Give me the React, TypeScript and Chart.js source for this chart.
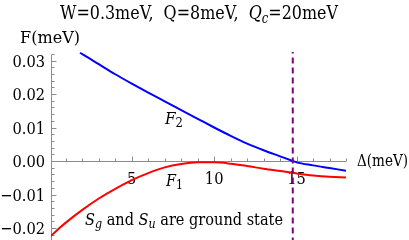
import React, { useEffect, useRef } from "react";
import { Chart, registerables } from "chart.js";

Chart.register(...registerables);

// ---- data ----
const deltaF2 = [1.86, 2, 3, 4, 5, 6, 7, 8, 9, 10, 11, 12, 13, 14, 14.77, 15, 16, 17, 18];
const valuesF2 = [
  0.0323, 0.0319, 0.0289, 0.0259, 0.0231, 0.0204, 0.0178, 0.0152, 0.0126, 0.01, 0.0075,
  0.0052, 0.0032, 0.0014, 0.0, -0.0004, -0.0013, -0.0021, -0.0029,
];
const deltaF1 = [0.1, 0.5, 1, 2, 3, 4, 5, 6, 7, 8, 9, 10, 11, 12, 13, 14, 15, 16, 17, 18];
const valuesF1 = [
  -0.0224, -0.0205, -0.0184, -0.0146, -0.0112, -0.0083, -0.0057, -0.0036, -0.0019, -0.0009,
  -0.0004, -0.0004, -0.0008, -0.0015, -0.0023, -0.003, -0.0037, -0.0043, -0.0047, -0.0049,
];
const criticalDelta = 14.77;
const xMin = 0.1;
const xMax = 18;
const yMin = -0.02358;
const yMax = 0.03254;
const xTickLabels = [5, 10, 15];
const xMinorTicks = [1, 2, 3, 4, 5, 6, 7, 8, 9, 10, 11, 12, 13, 14, 15, 16, 17, 18];
const yTickLabels = [-0.02, -0.01, 0, 0.01, 0.02, 0.03];
const yMinorTicks = [
  -0.022, -0.02, -0.018, -0.016, -0.014, -0.012, -0.01, -0.008, -0.006, -0.004, -0.002, 0,
  0.002, 0.004, 0.006, 0.008, 0.01, 0.012, 0.014, 0.016, 0.018, 0.02, 0.022, 0.024, 0.026,
  0.028, 0.03, 0.032,
];

const FONT = "'DejaVu Serif'";
const FS = 17;
const AXIS_COLOR = "#8c8c8c";

type Seg = { t: string; italic?: boolean; sub?: boolean };
type RichOpts = { size: number; align: "left" | "center" | "right"; width?: number; k?: number };

function drawRich(ctx: CanvasRenderingContext2D, segs: Seg[], x: number, y: number, o: RichOpts) {
  const f = (s: Seg) =>
    `${s.italic ? "italic " : ""}${s.sub ? Math.round(o.size * 0.75) : o.size}px ${FONT}`;
  let total = 0;
  for (const s of segs) {
    ctx.font = f(s);
    total += ctx.measureText(s.t).width;
  }
  const k = o.width ? o.width / total : o.k ?? 1;
  const w = total * k;
  const left = o.align === "center" ? x - w / 2 : o.align === "right" ? x - w : x;
  ctx.save();
  ctx.translate(left, y);
  ctx.scale(k, 1);
  ctx.textAlign = "left";
  ctx.textBaseline = "alphabetic";
  ctx.fillStyle = "#000";
  let cx = 0;
  for (const s of segs) {
    ctx.font = f(s);
    ctx.fillText(s.t, cx, s.sub ? o.size * 0.19 : 0);
    cx += ctx.measureText(s.t).width;
  }
  ctx.restore();
}

const fmtY = (v: number) => v.toFixed(2).replace("-", "\u2212");

const decorPlugin = {
  id: "decor",
  beforeDatasetsDraw(chart: any) {
    const { ctx, chartArea: a, scales } = chart;
    const x = scales.x;
    const y = scales.y;
    ctx.save();
    ctx.strokeStyle = AXIS_COLOR;
    ctx.lineWidth = 1;
    const y0 = Math.round(y.getPixelForValue(0)) + 0.5;
    const xl = Math.round(a.left) + 0.5;
    ctx.beginPath();
    ctx.moveTo(xl, a.top + 3);
    ctx.lineTo(xl, a.bottom);
    ctx.moveTo(a.left, y0);
    ctx.lineTo(a.right, y0);
    for (const v of yMinorTicks) {
      const p = Math.round(y.getPixelForValue(v)) + 0.5;
      const major = yTickLabels.some((l) => Math.abs(l - v) < 1e-9);
      ctx.moveTo(xl, p);
      ctx.lineTo(xl + (major ? 5 : 3), p);
    }
    for (const v of xMinorTicks) {
      const p = Math.round(x.getPixelForValue(v)) + 0.5;
      const major = xTickLabels.includes(v);
      ctx.moveTo(p, y0);
      ctx.lineTo(p, y0 - (major ? 5 : 3));
    }
    ctx.stroke();
    ctx.restore();

    // tick labels, placed through the scales
    ctx.save();
    for (const v of yTickLabels) {
      const p = y.getPixelForValue(v);
      drawRich(ctx, [{ t: fmtY(v) }], a.left - 6, p + 6.2, { size: FS, align: "right", k: 0.86 });
    }
    for (const v of xTickLabels) {
      const p = x.getPixelForValue(v);
      drawRich(ctx, [{ t: String(v) }], p, y.getPixelForValue(0) + 22.5, {
        size: FS,
        align: "center",
        k: 0.86,
      });
    }
    ctx.restore();
  },
  afterDraw(chart: any) {
    const { ctx } = chart;
    ctx.save();
    drawRich(
      ctx,
      [
        { t: "W=0.3meV,  Q=8meV,  " },
        { t: "Q", italic: true },
        { t: "c", italic: true, sub: true },
        { t: "=20meV" },
      ],
      199,
      19,
      { size: 19, align: "center", width: 278 }
    );
    drawRich(ctx, [{ t: "F(meV)" }], 20, 43, { size: FS, align: "left", width: 60 });
    drawRich(ctx, [{ t: "\u0394(meV)" }], 357, 166, { size: FS, align: "left", width: 51 });
    drawRich(ctx, [{ t: "F", italic: true }, { t: "2", sub: true }], 165, 123.5, {
      size: FS,
      align: "left",
      width: 18,
    });
    drawRich(ctx, [{ t: "F", italic: true }, { t: "1", sub: true }], 166, 185.5, {
      size: FS,
      align: "left",
      width: 17,
    });
    drawRich(
      ctx,
      [
        { t: "S", italic: true },
        { t: "g", italic: true, sub: true },
        { t: " and " },
        { t: "S", italic: true },
        { t: "u", italic: true, sub: true },
        { t: " are ground state" },
      ],
      85,
      225,
      { size: FS, align: "left", width: 198 }
    );
    ctx.restore();
  },
};

export default function App() {
  const ref = useRef<HTMLCanvasElement | null>(null);
  useEffect(() => {
    if (!ref.current) return;
    const chart = new Chart(ref.current, {
      type: "line",
      data: {
        datasets: [
          {
            label: "critical",
            data: [
              { x: criticalDelta, y: yMin - 0.01 },
              { x: criticalDelta, y: yMax + 0.01 },
            ],
            borderColor: "#800080",
            borderWidth: 2,
            borderDash: [6, 4],
            pointRadius: 0,
          },
          {
            label: "F2",
            data: deltaF2.map((d, i) => ({ x: d, y: valuesF2[i] })),
            borderColor: "#0000ff",
            borderWidth: 2,
            pointRadius: 0,
            cubicInterpolationMode: "monotone",
          },
          {
            label: "F1",
            data: deltaF1.map((d, i) => ({ x: d, y: valuesF1[i] })),
            borderColor: "#ff0000",
            borderWidth: 2,
            pointRadius: 0,
            cubicInterpolationMode: "monotone",
          },
        ],
      },
      options: {
        responsive: false,
        animation: false,
        devicePixelRatio: 1,
        layout: { padding: { left: 0, right: 63, top: 52, bottom: 0 } },
        plugins: { legend: { display: false }, tooltip: { enabled: false }, title: { display: false } },
        scales: {
          x: {
            type: "linear",
            min: xMin,
            max: xMax,
            position: { y: 0 } as any,
            grid: { display: false, drawTicks: false },
            border: { display: false },
            ticks: { display: false },
            afterBuildTicks: (s: any) => {
              s.ticks = xTickLabels.map((v) => ({ value: v }));
            },
            afterFit: (s: any) => {
              s.paddingLeft = 0;
              s.paddingRight = 0;
            },
          },
          y: {
            type: "linear",
            position: "left",
            min: yMin,
            max: yMax,
            grid: { display: false, drawTicks: false },
            border: { display: false },
            ticks: { display: false },
            afterBuildTicks: (s: any) => {
              s.ticks = yTickLabels.map((v) => ({ value: v }));
            },
            afterFit: (s: any) => {
              s.width = 51;
              s.paddingTop = 0;
              s.paddingBottom = 0;
            },
          },
        },
      },
      plugins: [decorPlugin],
    });
    return () => chart.destroy();
  }, []);
  return (
    <div style={{ position: "fixed", left: 0, top: 0, width: 409, height: 240, background: "#fff" }}>
      <canvas ref={ref} width={409} height={240} style={{ display: "block" }} />
    </div>
  );
}
